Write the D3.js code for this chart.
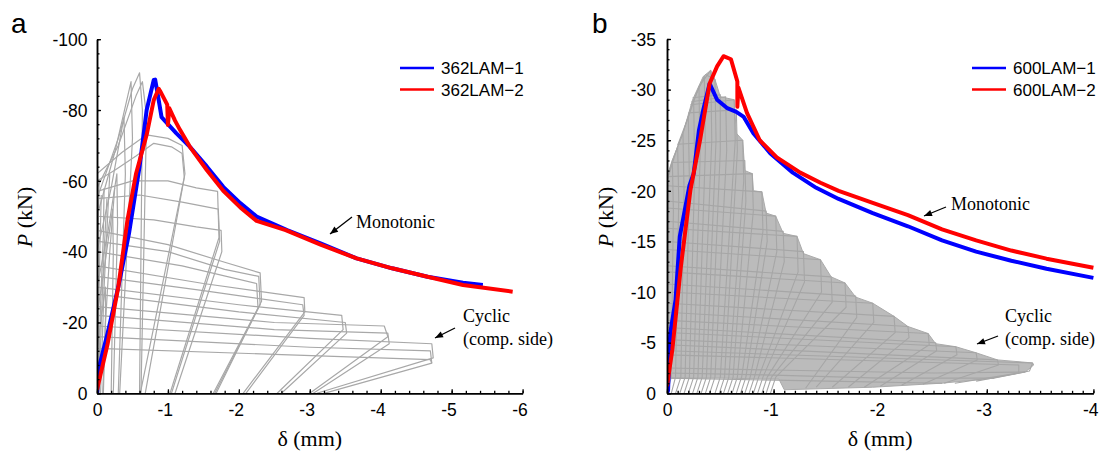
<!DOCTYPE html>
<html><head><meta charset="utf-8">
<script src="https://cdn.jsdelivr.net/npm/d3@7"></script>
<style>body{margin:0;background:#fff}svg{display:block}</style>
</head><body><svg id="c" width="1102" height="453"></svg>
<script>
// ---------------- Data ----------------
const xTicksA = [0,-1,-2,-3,-4,-5,-6];
const yTicksA = [0,-20,-40,-60,-80,-100];
const xTicksB = [0,-1,-2,-3,-4];
const yTicksB = [0,-5,-10,-15,-20,-25,-30,-35];
const seriesA = ["362LAM\u22121","362LAM\u22122"];
const seriesB = ["600LAM\u22121","600LAM\u22122"];

// monotonic, panel a  [delta (mm), P (kN)]
const monoA1 = [[0,0],[-0.03,-7.5],[-0.15,-17],[-0.3,-30],[-0.45,-45],[-0.6,-64],[-0.7,-80],[-0.8,-88.5],[-0.82,-88.6],[-0.86,-84],[-0.91,-78],[-1.0,-76],[-1.12,-73.4],[-1.31,-69.6],[-1.55,-64],[-1.78,-58.3],[-2.02,-53.7],[-2.25,-49.9],[-2.68,-46.1],[-3.16,-42.3],[-3.66,-38.1],[-4.16,-35.3],[-4.66,-32.9],[-5.16,-31.2],[-5.44,-30.6]];
const monoA2 = [[0,-1],[-0.15,-14],[-0.3,-30],[-0.43,-49],[-0.55,-62],[-0.7,-73],[-0.8,-82.8],[-0.87,-86],[-0.9,-85],[-0.99,-81.5],[-1.0,-75.8],[-1.02,-80.5],[-1.1,-77],[-1.17,-74.4],[-1.31,-69.6],[-1.55,-63],[-1.78,-57.2],[-2.02,-52.5],[-2.25,-48.7],[-2.66,-46.1],[-3.16,-41.9],[-3.66,-38.1],[-4.16,-35.3],[-4.66,-32.9],[-5.16,-30.6],[-5.86,-28.7]];

// monotonic, panel b
const monoB1 = [[0,0],[-0.01,-0.3],[-0.03,-5.9],[-0.08,-9.2],[-0.12,-15.5],[-0.21,-20.5],[-0.25,-21.7],[-0.3,-26],[-0.34,-28],[-0.4,-30.6],[-0.47,-29],[-0.56,-28.2],[-0.65,-27.8],[-0.72,-27.3],[-0.81,-25.7],[-0.97,-23.7],[-1.18,-21.8],[-1.4,-20.3],[-1.61,-19.2],[-1.93,-17.8],[-2.26,-16.5],[-2.58,-15.1],[-2.9,-14.0],[-3.23,-13.1],[-3.56,-12.3],[-4.0,-11.4]];
const monoB2 = [[0,-0.7],[-0.05,-4.3],[-0.13,-12.5],[-0.22,-20.1],[-0.31,-25],[-0.4,-30.6],[-0.47,-32.3],[-0.53,-33.3],[-0.6,-33.0],[-0.66,-30.8],[-0.66,-28.3],[-0.67,-30.2],[-0.75,-27.7],[-0.87,-25],[-1.03,-23.3],[-1.25,-21.8],[-1.44,-20.8],[-1.61,-20.0],[-1.93,-18.8],[-2.26,-17.6],[-2.58,-16.2],[-2.9,-15.1],[-3.23,-14.1],[-3.56,-13.3],[-4.0,-12.4]];

// cyclic (compression side), panel a : one polyline per cycle
const cycA = [
 [[0,-12],[-0.05,-20],[-0.12,-30],[-0.12,-22],[-0.09,0]],
 [[0,-22],[-0.1,-35],[-0.22,-52],[-0.23,-40],[-0.2,0]],
 [[0,-30],[-0.15,-45],[-0.28,-62],[-0.29,-48],[-0.23,0]],
 [[0,-40],[-0.2,-58],[-0.38,-78],[-0.4,-62],[-0.3,0]],
 [[0,-50],[-0.25,-68],[-0.48,-88],[-0.5,-72],[-0.32,0]],
 [[0,-55],[-0.3,-72],[-0.5,-86],[-0.6,-90.5],[-0.64,-80],[-0.6,0]],
 [[0,-58],[-0.3,-70],[-0.55,-84],[-0.64,-88],[-0.7,-78],[-0.68,-60],[-0.62,0]],
 [[0,-60],[-0.25,-63],[-0.55,-67],[-0.8,-70.6],[-1.05,-69.6],[-1.2,-67.7],[-1.23,-61],[-0.61,0]],
 [[0,-62],[-0.35,-68],[-0.7,-73],[-1.0,-72],[-1.2,-70],[-1.24,-62],[-0.68,0]],
 [[0,-57],[-0.5,-60],[-1.0,-60],[-1.4,-58],[-1.7,-57],[-1.72,-44],[-1.03,0]],
 [[0,-55],[-0.6,-56],[-1.2,-54],[-1.71,-52],[-1.73,-43],[-1.05,0]],
 [[0,-50],[-0.8,-49],[-1.4,-47],[-1.75,-46],[-1.76,-40],[-1.1,0]],
 [[0,-46],[-1.0,-42],[-1.8,-37],[-2.3,-34],[-2.32,-26],[-1.64,0]],
 [[0,-43],[-1.0,-40],[-1.8,-35],[-2.28,-33],[-2.3,-25],[-1.66,0]],
 [[0,-40],[-1.2,-36],[-2.25,-31],[-2.27,-24],[-1.68,0]],
 [[0,-36],[-1.5,-31],[-2.92,-27],[-2.93,-23],[-2.06,0]],
 [[0,-33],[-1.5,-29],[-2.9,-25],[-2.92,-22],[-2.1,0]],
 [[0,-30],[-2.0,-25],[-3.45,-22],[-3.47,-18],[-2.54,0]],
 [[0,-28],[-2.0,-23],[-3.5,-20],[-3.52,-17],[-2.6,0]],
 [[0,-24.5],[-2.5,-20],[-4.05,-19],[-4.1,-16],[-3.0,0]],
 [[0,-22],[-2.5,-18],[-4.1,-17],[-4.12,-14],[-3.05,0]],
 [[0,-19],[-3.0,-15.5],[-4.72,-14],[-4.74,-10],[-3.1,0]],
 [[0,-16],[-3.0,-13],[-4.7,-12],[-4.72,-8.5],[-3.2,0]],
 [[0,-12.7],[-2.5,-11],[-4.7,-9.5],[-4.72,-8.5]],
 [[-0.02,0],[-0.05,-25],[-0.09,-45],[-0.1,-58]],
 [[0,0],[-0.02,-20],[-0.04,-40],[-0.06,-56]],
 [[-0.05,0],[-0.1,-30],[-0.15,-50],[-0.18,-62]],
 [[0,-5],[-0.01,-30],[-0.02,-50],[-0.03,-60]],
 [[-0.03,0],[-0.06,-20],[-0.1,-40],[-0.14,-55]],
 [[-0.08,0],[-0.12,-20],[-0.18,-40],[-0.25,-58]]
];

// cyclic, panel b : outline of the dense hysteresis cloud
const cloudB = [[0,-1.5],[0,-21.5],[-0.05,-23],[-0.15,-25.7],[-0.24,-29],[-0.34,-31.3],[-0.41,-31.9],[-0.45,-31],[-0.5,-29.3],[-0.63,-29],[-0.65,-25.7],[-0.71,-25],[-0.73,-22],[-0.8,-21.7],[-0.81,-20],[-0.89,-19.9],[-0.93,-17.8],[-1.02,-17.5],[-1.09,-15.8],[-1.22,-15.5],[-1.28,-13.8],[-1.44,-13.2],[-1.54,-11.5],[-1.67,-10.9],[-1.77,-9.5],[-1.93,-8.9],[-2.13,-7.6],[-2.26,-6.6],[-2.45,-5.9],[-2.52,-4.9],[-2.71,-4.6],[-2.9,-4.0],[-3.1,-3.3],[-3.43,-3.0],[-3.44,-2.8],[-3.36,-2.1],[-3.07,-1.5],[-2.58,-1.0],[-1.93,-0.6],[-1.1,-0.35],[-1.05,-1.4],[-0.5,-1.5],[0,-1.5]];
// cyclic, panel b : individual cycles
const cycB = [
 [[0,-21],[-0.05,-23],[-0.06,-18],[-0.04,-1.6],[0,0]],
 [[0,-21],[-0.1,-24.4],[-0.11,-19],[-0.08,-1.6],[-0.04,0]],
 [[-0.05,-23],[-0.15,-25.7],[-0.16,-20],[-0.13,-1.6],[-0.08,0]],
 [[-0.1,-24.5],[-0.2,-27.3],[-0.21,-21],[-0.17,-1.6],[-0.12,0]],
 [[-0.15,-25.7],[-0.25,-29],[-0.26,-22],[-0.21,-1.6],[-0.16,0]],
 [[-0.2,-27.3],[-0.3,-30.3],[-0.31,-23],[-0.25,-1.6],[-0.2,0]],
 [[-0.25,-29],[-0.35,-31.3],[-0.36,-24],[-0.29,-1.6],[-0.24,0]],
 [[-0.3,-30.3],[-0.41,-31.9],[-0.42,-25],[-0.33,-1.6],[-0.28,0]],
 [[-0.36,-31.5],[-0.45,-31],[-0.46,-25],[-0.37,-1.6],[-0.32,0]],
 [[-0.24,-29.2],[-0.5,-29.5],[-0.5,-24],[-0.41,-1.6],[-0.36,0]],
 [[-0.23,-28.8],[-0.55,-29.3],[-0.56,-24],[-0.45,-1.6],[-0.4,0]],
 [[-0.22,-28.5],[-0.63,-29],[-0.64,-25],[-0.5,-1.6],[-0.45,0]],
 [[-0.2,-27.7],[-0.65,-28],[-0.66,-24],[-0.54,-1.6],[-0.49,0]],
 [[-0.1,-24.6],[-0.71,-25],[-0.72,-21],[-0.58,-1.6],[-0.53,0]],
 [[-0.04,-22.8],[-0.73,-23],[-0.74,-19],[-0.62,-1.6],[-0.57,0]],
 [[0,-21.4],[-0.8,-21.7],[-0.81,-18],[-0.66,-1.6],[-0.61,0]],
 [[0,-20.5],[-0.89,-19.9],[-0.9,-16],[-0.7,-1.6],[-0.65,0]],
 [[0,-19],[-0.93,-18],[-0.94,-15],[-0.74,-1.6],[-0.69,0]],
 [[0,-18.3],[-1.02,-17.5],[-1.03,-14],[-0.78,-1.6],[-0.73,0]],
 [[0,-17],[-1.09,-16],[-1.1,-13],[-0.82,-1.6],[-0.77,0]],
 [[0,-16.3],[-1.22,-15.5],[-1.23,-12],[-0.86,-1.6],[-0.81,0]],
 [[0,-15],[-1.28,-14],[-1.29,-11],[-0.9,-1.6],[-0.85,0]],
 [[0,-14.2],[-1.44,-13.2],[-1.45,-10],[-0.94,-1.6],[-0.89,0]],
 [[0,-12.6],[-1.54,-11.5],[-1.55,-9],[-0.98,-1.6],[-0.93,0]],
 [[0,-12],[-1.67,-10.9],[-1.68,-8.5],[-1.02,-1.6],[-0.97,0]],
 [[0,-10.8],[-1.77,-9.6],[-1.78,-7.5],[-1.3,-0.5]],
 [[0,-10],[-1.93,-8.9],[-1.94,-7],[-1.4,-0.6]],
 [[0,-8.9],[-2.13,-7.6],[-2.14,-6],[-1.55,-0.6]],
 [[0,-8],[-2.26,-6.6],[-2.27,-5.5],[-1.7,-0.6]],
 [[0,-7.2],[-2.45,-5.9],[-2.46,-4.8],[-1.85,-0.6]],
 [[0,-6.5],[-2.52,-5],[-2.53,-4.2],[-2.0,-0.7]],
 [[0,-6],[-2.71,-4.6],[-2.72,-3.8],[-2.2,-0.8]],
 [[0,-5.3],[-2.9,-4],[-2.91,-3.3],[-2.4,-0.9]],
 [[0,-4.8],[-3.1,-3.3],[-3.11,-2.8],[-2.6,-1]],
 [[0,-4.2],[-3.43,-3],[-3.4,-2.2],[-2.9,-1.2]],
 [[0,-3.8],[-3.3,-2.8],[-3.3,-2.0],[-2.7,-1.0]],
 [[0,-2],[-1,-1.8],[-2,-1.5],[-3.07,-1.5]],
 [[0,-1.5],[-1.5,-1.2],[-2.58,-1.0]],
 [[0,-2.5],[-1,-2.3],[-2.5,-2],[-3.36,-2.1]]
];

// ---------------- Drawing ----------------
const svg = d3.select("#c");
svg.append("rect").attr("width",1102).attr("height",453).attr("fill","#fff");
const sans = "'Liberation Sans', Arial, sans-serif";
const serif = "'Liberation Serif', 'Times New Roman', serif";

function panel(o){
  const g = svg.append("g");
  const x = d3.scaleLinear().domain(o.xDom).range(o.xRange);
  const y = d3.scaleLinear().domain(o.yDom).range(o.yRange);
  const line = d3.line().x(d=>x(d[0])).y(d=>y(d[1]));
  const clipId = "clip"+o.id;
  g.append("clipPath").attr("id",clipId).append("rect")
    .attr("x",o.xRange[0]).attr("y",o.yRange[1]-2)
    .attr("width",o.xRange[1]-o.xRange[0]+3).attr("height",o.yRange[0]-o.yRange[1]+2);
  const plot = g.append("g").attr("clip-path",`url(#${clipId})`);
  if(o.cloud){
    plot.append("path").datum(o.cloud).attr("d",line).attr("fill","#bbbbbb").attr("stroke","#aaa").attr("stroke-width",1);
  }
  plot.selectAll("path.cyc").data(o.cycles).enter().append("path").attr("class","cyc")
    .attr("d",line).attr("fill","none").attr("stroke",o.cycColor).attr("stroke-width",o.cycWidth).attr("stroke-linejoin","round");
  plot.append("path").datum(o.mono1).attr("d",line).attr("fill","none").attr("stroke","#0000ff").attr("stroke-width",4).attr("stroke-linejoin","round");
  plot.append("path").datum(o.mono2).attr("d",line).attr("fill","none").attr("stroke","#ff0000").attr("stroke-width",4).attr("stroke-linejoin","round");

  // axes
  const y0 = o.yRange[0], x0 = o.xRange[0];
  const xa = d3.axisBottom(x).tickValues(o.xTicks).tickSizeInner(-4).tickSizeOuter(0).tickPadding(10).tickFormat(d=>String(d));
  const xm = d3.axisBottom(x).tickValues(o.xMinor).tickSizeInner(-2.5).tickSizeOuter(0).tickFormat("");
  const ya = d3.axisLeft(y).tickValues(o.yTicks).tickSizeInner(-4).tickSizeOuter(0).tickPadding(o.yPad).tickFormat(d=>String(d));
  const ym = d3.axisLeft(y).tickValues(o.yMinor).tickSizeInner(-2.5).tickSizeOuter(0).tickFormat("");
  [xm,xa].forEach(a=>{
    const ag = g.append("g").attr("transform",`translate(0,${y0})`).call(a);
    ag.select(".domain").attr("stroke","#000").attr("stroke-width",1.5);
    ag.selectAll(".tick line").attr("stroke","#000").attr("stroke-width",1.3);
    ag.selectAll("text").attr("font-family",sans).attr("font-size",17.5).attr("fill","#000")
      .attr("dx",d=>d<0?-3.2:0);
  });
  [ym,ya].forEach(a=>{
    const ag = g.append("g").attr("transform",`translate(${x0},0)`).call(a);
    ag.select(".domain").attr("stroke","#000").attr("stroke-width",1.5);
    ag.selectAll(".tick line").attr("stroke","#000").attr("stroke-width",1.3);
    ag.selectAll("text").attr("font-family",sans).attr("font-size",17.5).attr("fill","#000").attr("dy","0.36em");
  });

  // titles
  g.append("text").attr("x",o.panelLabel[1]).attr("y",33).text(o.panelLabel[0])
    .attr("font-family",sans).attr("font-size",28);
  const yt = g.append("text").attr("transform",`translate(${o.yTitleX},217) rotate(-90)`)
    .attr("text-anchor","middle").attr("font-family",serif).attr("font-size",22).attr("dy","0.35em");
  yt.append("tspan").attr("font-style","italic").text("P");
  yt.append("tspan").text(" (kN)");
  g.append("text").attr("x",(o.xRange[0]+o.xRange[1])/2).attr("y",446).attr("text-anchor","middle")
    .attr("font-family",serif).attr("font-size",22).text("\u03b4 (mm)");

  // legend
  o.series.forEach((s,i)=>{
    const ly = o.legY + i*21.6;
    g.append("line").attr("x1",o.legX).attr("x2",o.legX+34).attr("y1",ly).attr("y2",ly)
      .attr("stroke",i===0?"#0000ff":"#ff0000").attr("stroke-width",2.5);
    g.append("text").attr("x",o.legX+41).attr("y",ly).attr("dy","0.36em").text(s)
      .attr("font-family",sans).attr("font-size",17);
  });

  // annotations
  o.notes.forEach(n=>{
    const t = g.append("text").attr("x",n.x).attr("y",n.y).attr("font-family",serif).attr("font-size",18);
    n.lines.forEach((l,i)=>t.append("tspan").attr("x",n.x).attr("dy",i===0?0:23).text(l));
    g.append("line").attr("x1",n.a[0]).attr("y1",n.a[1]).attr("x2",n.a[2]).attr("y2",n.a[3])
      .attr("stroke","#000").attr("stroke-width",1.3);
    const ang = Math.atan2(n.a[3]-n.a[1], n.a[2]-n.a[0]);
    const L=8, W=3.2;
    const bx = n.a[2]-L*Math.cos(ang), by = n.a[3]-L*Math.sin(ang);
    g.append("path").attr("d",`M${n.a[2]},${n.a[3]}L${bx-W*Math.sin(ang)},${by+W*Math.cos(ang)}L${bx+W*Math.sin(ang)},${by-W*Math.cos(ang)}Z`).attr("fill","#000");
  });
}

function minors(a,b,step){const r=[];const n=Math.round((b-a)/step);for(let i=0;i<=n;i++)r.push(+(a+i*step).toFixed(4));return r;}

panel({id:"a", xDom:[0,-6], xRange:[97,522.6], yDom:[0,-100], yRange:[393.3,39.2],
  xTicks:xTicksA, yTicks:yTicksA, xMinor:minors(0,-6,-0.2), yMinor:minors(0,-100,-4), yPad:9.5,
  mono1:monoA1, mono2:monoA2, cycles:cycA, cycColor:"#a8a8a8", cycWidth:1.2, series:seriesA,
  legX:400, legY:68, panelLabel:["a",11], yTitleX:24,
  notes:[{x:356,y:228,lines:["Monotonic"],a:[352,217,330,234]},
         {x:463,y:322,lines:["Cyclic","(comp. side)"],a:[455,328,435,338]}]});

panel({id:"b", xDom:[0,-4], xRange:[667,1093.4], yDom:[0,-35], yRange:[393.3,39],
  xTicks:xTicksB, yTicks:yTicksB, xMinor:minors(0,-4,-0.1), yMinor:minors(0,-35,-1), yPad:11,
  mono1:monoB1, mono2:monoB2, cycles:cycB, cycColor:"#a6a6a6", cycWidth:1.1, cloud:cloudB, series:seriesB,
  legX:972, legY:68, panelLabel:["b",592], yTitleX:605,
  notes:[{x:951,y:210,lines:["Monotonic"],a:[946,207,924,216]},
         {x:1005,y:322,lines:["Cyclic","(comp. side)"],a:[998,336,977,344]}]});
</script></body></html>
